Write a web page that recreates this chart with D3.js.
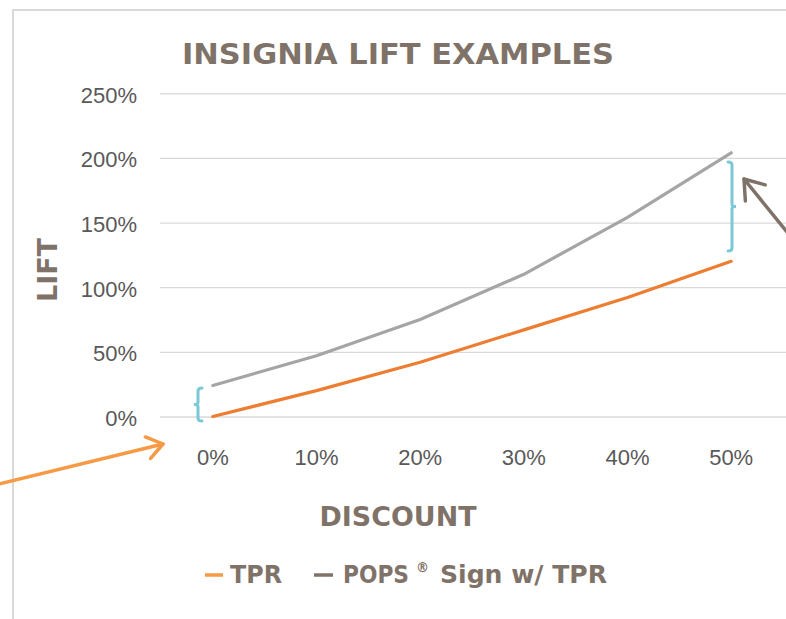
<!DOCTYPE html>
<html><head><meta charset="utf-8">
<script src="https://cdn.jsdelivr.net/npm/d3@7"></script>
<style>html,body{margin:0;padding:0;background:#fff;}svg{display:block;}</style>
</head><body>
<script>
const categories = ["0%", "10%", "20%", "30%", "40%", "50%"];
const tprValues = [0, 0.20, 0.42, 0.67, 0.92, 1.20];
const popsValues = [0.24, 0.47, 0.75, 1.10, 1.54, 2.04];
const yTicks = [0, 0.5, 1.0, 1.5, 2.0, 2.5];
const seriesNames = ["TPR", "POPS", "®", "Sign w/ TPR"];

const W = 786, H = 619;
const svg = d3.select("body").append("svg").attr("width", W).attr("height", H);
const txt = "#7f7369";

// frame
svg.append("path").attr("d", `M13,${H} L13,10 L${W},10`).attr("fill", "none")
  .attr("stroke", "#d9d9d9").attr("stroke-width", 2);

const x = d3.scaleBand().domain(categories).range([160, 782]);
const cx = c => x(c) + x.bandwidth() / 2 + 1;
const y = d3.scaleLinear().domain([0, 2.5]).range([416.5, 93.3]);

// gridlines
const yAxis = d3.axisLeft(y).tickValues(yTicks).tickFormat(d3.format(".0%")).tickSize(-(W - 160)).tickPadding(23);
const ga = svg.append("g").attr("transform", "translate(160,0)").call(yAxis);
ga.select(".domain").remove();
ga.selectAll(".tick line").attr("stroke", "#d9d9d9").attr("stroke-width", 1.3);
ga.selectAll(".tick text").attr("fill", "#595959").attr("font-family", "Liberation Sans, Arial, sans-serif")
  .attr("font-size", 22).attr("dy", "0.4em");

// x labels
const xAxis = d3.axisBottom(x).tickSize(0).tickPadding(0);
const gx = svg.append("g").attr("transform", "translate(1,450)").call(xAxis);
gx.select(".domain").remove();
gx.selectAll(".tick text").attr("fill", "#595959").attr("font-family", "Liberation Sans, Arial, sans-serif")
  .attr("font-size", 22).attr("dy", "0.7em");

// lines
const line = d3.line().x((d, i) => cx(categories[i])).y(d => y(d));
svg.append("path").datum(popsValues).attr("d", line).attr("fill", "none")
  .attr("stroke", "#a5a5a5").attr("stroke-width", 3.2).attr("stroke-linecap", "round").attr("stroke-linejoin", "round");
svg.append("path").datum(tprValues).attr("d", line).attr("fill", "none")
  .attr("stroke", "#ed7d31").attr("stroke-width", 3.2).attr("stroke-linecap", "round").attr("stroke-linejoin", "round");

// brackets
const brace = "#7cc8d6";
function bracket(xl, y0, y1, dir) {
  const h = -dir * 4, ym = (y0 + y1) / 2, r = 2;
  const p = `M${xl + h},${y0} Q${xl},${y0} ${xl},${y0 + r + 1} L${xl},${ym - 2} Q${xl},${ym} ${xl + dir * 4},${ym} Q${xl},${ym} ${xl},${ym + 2} L${xl},${y1 - r - 1} Q${xl},${y1} ${xl + h},${y1}`;
  svg.append("path").attr("d", p).attr("fill", "none").attr("stroke", brace).attr("stroke-width", 3).attr("stroke-linecap", "round");
}
bracket(198, 388, 421, -1);
bracket(732, 162, 251, 1);

// arrows
function arrow(x1, y1, x2, y2, col, len) {
  svg.append("line").attr("x1", x1).attr("y1", y1).attr("x2", x2).attr("y2", y2)
    .attr("stroke", col).attr("stroke-width", 3.5).attr("stroke-linecap", "round");
  const a = Math.atan2(y1 - y2, x1 - x2);
  const pts = [a + 0.62, a - 0.62].map(t => [x2 + len * Math.cos(t), y2 + len * Math.sin(t)]);
  svg.append("path").attr("d", `M${pts[0][0]},${pts[0][1]} L${x2},${y2} L${pts[1][0]},${pts[1][1]}`)
    .attr("fill", "none").attr("stroke", col).attr("stroke-width", 3.5).attr("stroke-linecap", "round").attr("stroke-linejoin", "round");
}
arrow(-5, 485, 163, 444, "#f79a46", 19);
arrow(800, 248, 744, 179, "#7f7369", 22);

// title
const bold = "DejaVu Sans, Verdana, sans-serif";
svg.append("text").attr("x", 398).attr("y", 64).attr("text-anchor", "middle").attr("fill", txt)
  .attr("font-family", bold).attr("font-weight", "bold").attr("font-size", 27.5)
  .attr("textLength", 432).attr("lengthAdjust", "spacingAndGlyphs").text("INSIGNIA LIFT EXAMPLES");

// axis titles
svg.append("text").attr("x", 398).attr("y", 526).attr("text-anchor", "middle").attr("fill", txt)
  .attr("font-family", bold).attr("font-weight", "bold").attr("font-size", 26)
  .attr("textLength", 157).attr("lengthAdjust", "spacingAndGlyphs").text("DISCOUNT");
svg.append("text").attr("transform", "translate(57,270) rotate(-90)").attr("text-anchor", "middle").attr("fill", txt)
  .attr("font-family", bold).attr("font-weight", "bold").attr("font-size", 26)
  .attr("textLength", 64).attr("lengthAdjust", "spacingAndGlyphs").text("LIFT");

// legend
const lg = svg.append("g");
const lt = (xx, yy, size, len, s) => lg.append("text").attr("x", xx).attr("y", yy).attr("fill", txt)
  .attr("font-family", bold).attr("font-weight", "bold").attr("font-size", size)
  .attr("textLength", len).attr("lengthAdjust", "spacingAndGlyphs").text(s);
lg.append("line").attr("x1", 205).attr("x2", 223).attr("y1", 575).attr("y2", 575).attr("stroke", "#f79a46").attr("stroke-width", 3.5);
lt(230, 583, 24, 52, seriesNames[0]);
lg.append("line").attr("x1", 314).attr("x2", 333).attr("y1", 575).attr("y2", 575).attr("stroke", "#7f7369").attr("stroke-width", 3.5);
lt(343, 583, 24, 66, seriesNames[1]);
lt(416, 572, 14, 13, seriesNames[2]);
lt(440, 583, 24, 167, seriesNames[3]);
</script>
</body></html>
